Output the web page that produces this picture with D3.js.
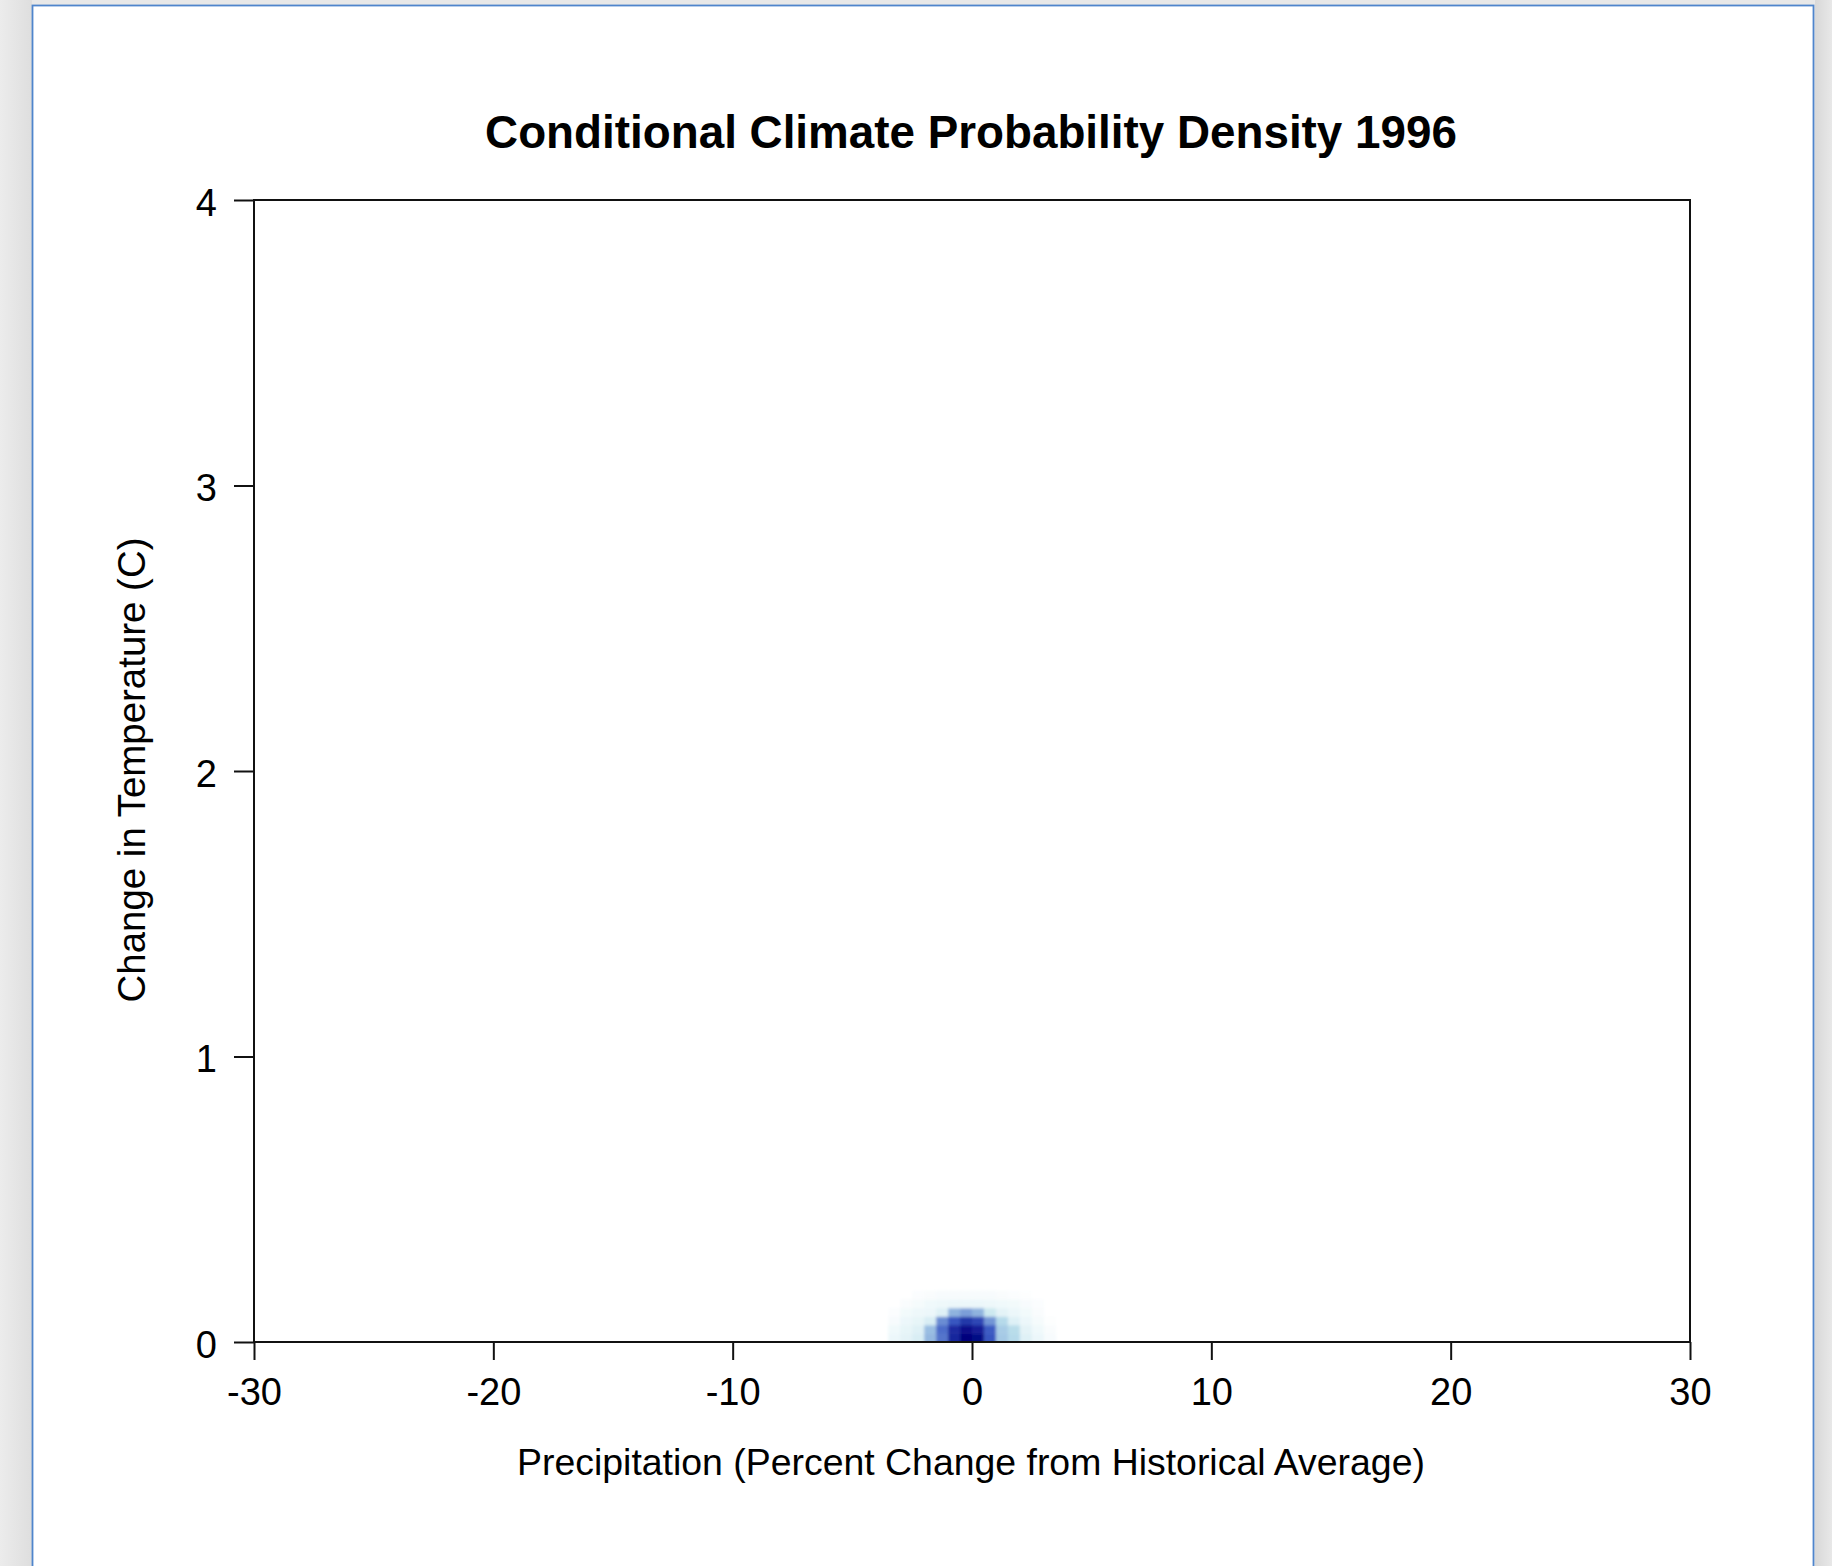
<!DOCTYPE html>
<html>
<head>
<meta charset="utf-8">
<script src="https://cdn.jsdelivr.net/npm/d3@7"></script>
<style>
  html, body { margin: 0; padding: 0; background: #e6e6e6; }
  svg { display: block; }
  text { font-family: "Liberation Sans", Arial, sans-serif; fill: #000; }
</style>
</head>
<body>
<svg id="chart" width="1832" height="1566"></svg>
<script>
// ---------------- data ----------------
const titleText = "Conditional Climate Probability Density 1996";
const xLabelText = "Precipitation (Percent Change from Historical Average)";
const yLabelText = "Change in Temperature (C)";

const xTicks = [-30, -20, -10, 0, 10, 20, 30];
const yTicks = [0, 1, 2, 3, 4];

// density grid: column centres (precip %), row lower edges (temp C)
const densX = [-3.25, -2.75, -2.25, -1.75, -1.25, -0.75, -0.25, 0.25, 0.75, 1.25, 1.75, 2.25, 2.75, 3.25];
const densY = [0.00, 0.03, 0.06, 0.09, 0.12, 0.15];
// rows from bottom (0 C) upward, relative density 0..1
const density = [
  [0.09, 0.12, 0.16, 0.40, 0.58, 0.85, 1.00, 0.96, 0.66, 0.34, 0.28, 0.14, 0.09, 0.04],
  [0.07, 0.11, 0.14, 0.38, 0.60, 0.83, 0.94, 0.88, 0.64, 0.33, 0.27, 0.12, 0.07, 0.03],
  [0.04, 0.09, 0.11, 0.16, 0.52, 0.66, 0.78, 0.72, 0.50, 0.28, 0.14, 0.09, 0.05, 0.01],
  [0.02, 0.06, 0.08, 0.09, 0.14, 0.42, 0.48, 0.42, 0.20, 0.12, 0.09, 0.06, 0.03, 0.00],
  [0.00, 0.03, 0.05, 0.07, 0.08, 0.09, 0.09, 0.09, 0.08, 0.07, 0.06, 0.04, 0.02, 0.00],
  [0.00, 0.00, 0.02, 0.03, 0.04, 0.04, 0.04, 0.04, 0.04, 0.03, 0.02, 0.01, 0.00, 0.00]
];
const cellW = 0.5, cellH = 0.03;

// ---------------- layout ----------------
const W = 1832, H = 1566;
const plot = { left: 254, right: 1690, top: 200, bottom: 1342 };

const svg = d3.select("#chart");

// window-like background panel
const defs = svg.append("defs");
const sh = defs.append("linearGradient").attr("id", "shadowL").attr("x1", 0).attr("x2", 1);
sh.append("stop").attr("offset", "0%").attr("stop-color", "#ececec");
sh.append("stop").attr("offset", "100%").attr("stop-color", "#dedede");
const shR = defs.append("linearGradient").attr("id", "shadowR").attr("x1", 0).attr("x2", 1);
shR.append("stop").attr("offset", "0%").attr("stop-color", "#d8d8d8");
shR.append("stop").attr("offset", "100%").attr("stop-color", "#e8e8e8");

svg.append("rect").attr("x", 0).attr("y", 0).attr("width", W).attr("height", H).attr("fill", "#e8e8e8");
svg.append("rect").attr("x", 0).attr("y", 0).attr("width", 32).attr("height", H).attr("fill", "url(#shadowL)");
svg.append("rect").attr("x", 1815).attr("y", 0).attr("width", 17).attr("height", H).attr("fill", "url(#shadowR)");
svg.append("rect").attr("x", 32.5).attr("y", 5.5).attr("width", 1781).attr("height", H + 20)
  .attr("fill", "#ffffff").attr("stroke", "#4f85cc").attr("stroke-width", 1.8);

// scales
const x = d3.scaleLinear().domain([-30, 30]).range([plot.left, plot.right]);
const y = d3.scaleLinear().domain([0, 4]).range([plot.bottom, plot.top]);

const color = d3.scaleLinear()
  .domain([0, 0.1, 0.25, 0.45, 0.65, 0.85, 1])
  .range(["#ffffff", "#eaf6f9", "#bfe3ec", "#86aadc", "#3a58c2", "#18269c", "#00007c"])
  .interpolate(d3.interpolateRgb)
  .clamp(true);

// density image
defs.append("clipPath").attr("id", "plotClip")
  .append("rect").attr("x", plot.left).attr("y", plot.top)
  .attr("width", plot.right - plot.left).attr("height", plot.bottom - plot.top);
defs.append("filter").attr("id", "soft").attr("x", "-20%").attr("y", "-20%").attr("width", "140%").attr("height", "140%")
  .append("feGaussianBlur").attr("stdDeviation", 1.8);

const cells = [];
density.forEach((row, ri) => row.forEach((v, ci) => cells.push({ cx: densX[ci], y0: densY[ri], v })));

const clipG = svg.append("g").attr("clip-path", "url(#plotClip)");
const blurG = clipG.append("g").attr("filter", "url(#soft)");
blurG.selectAll("rect.cell").data(cells.filter(d => d.v > 0)).join("rect")
  .attr("class", "cell")
  .attr("x", d => x(d.cx - cellW / 2))
  .attr("width", d => x(d.cx + cellW / 2) - x(d.cx - cellW / 2) + 0.5)
  .attr("y", d => y(d.y0 + cellH))
  .attr("height", d => y(d.y0) - y(d.y0 + cellH) + 0.5)
  .attr("fill", d => color(d.v));
// extend bottom row below the axis so blur does not fade at the clipped edge
blurG.selectAll("rect.ext").data(cells.filter(d => d.y0 === 0 && d.v > 0)).join("rect")
  .attr("class", "ext")
  .attr("x", d => x(d.cx - cellW / 2))
  .attr("width", d => x(d.cx + cellW / 2) - x(d.cx - cellW / 2) + 0.5)
  .attr("y", d => y(d.y0))
  .attr("height", 12)
  .attr("fill", d => color(d.v));

// axes
const tickFont = 38;
const xAxis = svg.append("g").attr("transform", `translate(0,${plot.bottom})`)
  .call(d3.axisBottom(x).tickValues(xTicks).tickSize(18).tickSizeOuter(0).tickFormat(d3.format("d")));
xAxis.select(".domain").remove();
xAxis.selectAll(".tick line").attr("stroke", "#111").attr("stroke-width", 2);
xAxis.selectAll(".tick text").attr("y", 50).attr("dy", "0.35em")
  .style("font-size", tickFont + "px").attr("fill", "#000")
  .text(d => d < 0 ? "-" + Math.abs(d) : String(d));

const yAxis = svg.append("g").attr("transform", `translate(${plot.left},0)`)
  .call(d3.axisLeft(y).tickValues(yTicks).tickSize(20).tickSizeOuter(0).tickFormat(d3.format("d")));
yAxis.select(".domain").remove();
yAxis.selectAll(".tick line").attr("stroke", "#111").attr("stroke-width", 2);
yAxis.selectAll(".tick text").attr("x", -37).attr("dy", "0.40em")
  .style("font-size", tickFont + "px").attr("fill", "#000");
svg.selectAll(".tick text").attr("font-family", null);
svg.selectAll(".tick").attr("font-family", null).attr("font-size", null);

// plot frame
svg.append("rect").attr("x", plot.left).attr("y", plot.top)
  .attr("width", plot.right - plot.left).attr("height", plot.bottom - plot.top)
  .attr("fill", "none").attr("stroke", "#111").attr("stroke-width", 2);

// text helper fitting to a measured width
function fitText(sel, targetWidth, startSize) {
  sel.style("font-size", startSize + "px");
  const w = sel.node().getComputedTextLength();
  const s = startSize * targetWidth / w;
  sel.style("font-size", s.toFixed(2) + "px");
}

const title = svg.append("text").attr("x", 971).attr("y", 148)
  .attr("text-anchor", "middle").style("font-weight", "bold").text(titleText);
fitText(title, 972, 46);

const xLab = svg.append("text").attr("x", 971).attr("y", 1475)
  .attr("text-anchor", "middle").text(xLabelText);
fitText(xLab, 908, 38);

const yLab = svg.append("text")
  .attr("transform", `translate(145,770) rotate(-90)`)
  .attr("text-anchor", "middle").text(yLabelText);
fitText(yLab, 465, 38);
</script>
</body>
</html>
